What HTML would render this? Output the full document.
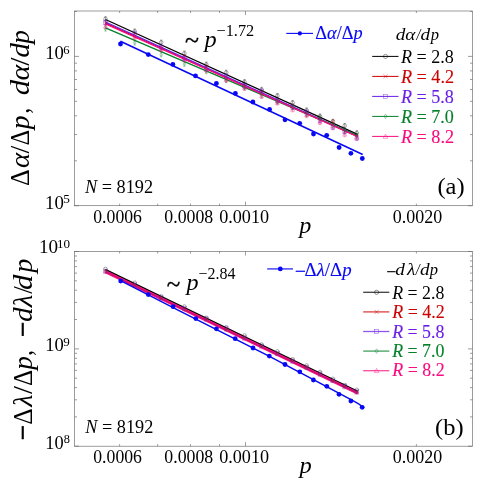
<!DOCTYPE html>
<html><head><meta charset="utf-8"><title>plot</title>
<style>
html,body{margin:0;padding:0;background:#fff;}
body{width:484px;height:485px;overflow:hidden;}
svg{display:block;}
text{font-family:"Liberation Serif",serif;}
.i{font-style:italic;}
</style></head><body>
<svg width="484" height="485" viewBox="0 0 484 485">
<rect width="484" height="485" fill="#fff"/>
<rect x="74.5" y="11.0" width="398.0" height="194.7" fill="none" stroke="#686868" stroke-width="0.65"/>
<path d="M119.6 205.7v-2M119.6 11.0v2M157.6 205.7v-2M157.6 11.0v2M190.5 205.7v-2M190.5 11.0v2M219.5 205.7v-2M219.5 11.0v2M245.5 205.7v-4M245.5 11.0v4M416.4 205.7v-2M416.4 11.0v2" stroke="#686868" stroke-width="0.65" fill="none"/>
<path d="M74.5 205.7h4.5M472.5 205.7h-4.5M74.5 160.8h2.5M472.5 160.8h-2.5M74.5 134.5h2.5M472.5 134.5h-2.5M74.5 115.8h2.5M472.5 115.8h-2.5M74.5 101.3h2.5M472.5 101.3h-2.5M74.5 89.5h2.5M472.5 89.5h-2.5M74.5 79.5h2.5M472.5 79.5h-2.5M74.5 70.9h2.5M472.5 70.9h-2.5M74.5 63.2h2.5M472.5 63.2h-2.5M74.5 56.4h4.5M472.5 56.4h-4.5M74.5 11.5h2.5M472.5 11.5h-2.5" stroke="#686868" stroke-width="0.65" fill="none"/>
<rect x="74.5" y="251.5" width="398.0" height="194.7" fill="none" stroke="#686868" stroke-width="0.65"/>
<path d="M119.6 446.2v-2M119.6 251.5v2M157.6 446.2v-2M157.6 251.5v2M190.5 446.2v-2M190.5 251.5v2M219.5 446.2v-2M219.5 251.5v2M245.5 446.2v-4M245.5 251.5v4M416.4 446.2v-2M416.4 251.5v2" stroke="#686868" stroke-width="0.65" fill="none"/>
<path d="M74.5 446.2h4.5M472.5 446.2h-4.5M74.5 416.9h2.5M472.5 416.9h-2.5M74.5 399.8h2.5M472.5 399.8h-2.5M74.5 387.6h2.5M472.5 387.6h-2.5M74.5 378.2h2.5M472.5 378.2h-2.5M74.5 370.4h2.5M472.5 370.4h-2.5M74.5 363.9h2.5M472.5 363.9h-2.5M74.5 358.3h2.5M472.5 358.3h-2.5M74.5 353.3h2.5M472.5 353.3h-2.5M74.5 348.9h4.5M472.5 348.9h-4.5M74.5 319.5h2.5M472.5 319.5h-2.5M74.5 302.4h2.5M472.5 302.4h-2.5M74.5 290.2h2.5M472.5 290.2h-2.5M74.5 280.8h2.5M472.5 280.8h-2.5M74.5 273.1h2.5M472.5 273.1h-2.5M74.5 266.6h2.5M472.5 266.6h-2.5M74.5 260.9h2.5M472.5 260.9h-2.5M74.5 256.0h2.5M472.5 256.0h-2.5M74.5 251.5h4.5M472.5 251.5h-4.5" stroke="#686868" stroke-width="0.65" fill="none"/>
<path d="M105.5 19.5L357.6 134.4" stroke="#000000" stroke-width="1.3" fill="none"/>
<path d="M105.5 23.2L357.6 136.5" stroke="#cc0000" stroke-width="1.3" fill="none"/>
<path d="M105.5 22.0L357.6 136.2" stroke="#6a1ee6" stroke-width="1.3" fill="none"/>
<path d="M105.5 27.8L357.6 135.6" stroke="#05802a" stroke-width="1.3" fill="none"/>
<path d="M105.5 23.9L357.6 136.7" stroke="#f80c80" stroke-width="1.3" fill="none"/>
<g stroke="#000000" stroke-width="0.6" fill="none" opacity="0.6"><path d="M105.5 16.7V21.3M104.3 16.7h2.4M104.3 21.3h2.4"/><circle cx="105.5" cy="19.0" r="1.8"/></g>
<g stroke="#000000" stroke-width="0.6" fill="none" opacity="0.6"><path d="M134.7 29.0V33.6M133.5 29.0h2.4M133.5 33.6h2.4"/><circle cx="134.7" cy="31.3" r="1.8"/></g>
<g stroke="#000000" stroke-width="0.6" fill="none" opacity="0.6"><path d="M161.2 40.1V44.7M160.0 40.1h2.4M160.0 44.7h2.4"/><circle cx="161.2" cy="42.4" r="1.8"/></g>
<g stroke="#000000" stroke-width="0.6" fill="none" opacity="0.6"><path d="M184.4 51.0V55.6M183.2 51.0h2.4M183.2 55.6h2.4"/><circle cx="184.4" cy="53.3" r="1.8"/></g>
<g stroke="#000000" stroke-width="0.6" fill="none" opacity="0.6"><path d="M206.3 62.1V66.7M205.1 62.1h2.4M205.1 66.7h2.4"/><circle cx="206.3" cy="64.4" r="1.8"/></g>
<g stroke="#000000" stroke-width="0.6" fill="none" opacity="0.6"><path d="M226.2 70.2V74.8M225.0 70.2h2.4M225.0 74.8h2.4"/><circle cx="226.2" cy="72.5" r="1.8"/></g>
<g stroke="#000000" stroke-width="0.6" fill="none" opacity="0.6"><path d="M244.5 79.6V84.2M243.3 79.6h2.4M243.3 84.2h2.4"/><circle cx="244.5" cy="81.9" r="1.8"/></g>
<g stroke="#000000" stroke-width="0.6" fill="none" opacity="0.6"><path d="M261.6 87.3V91.9M260.4 87.3h2.4M260.4 91.9h2.4"/><circle cx="261.6" cy="89.6" r="1.8"/></g>
<g stroke="#000000" stroke-width="0.6" fill="none" opacity="0.6"><path d="M277.4 93.5V98.1M276.2 93.5h2.4M276.2 98.1h2.4"/><circle cx="277.4" cy="95.8" r="1.8"/></g>
<g stroke="#000000" stroke-width="0.6" fill="none" opacity="0.6"><path d="M292.6 100.5V105.1M291.4 100.5h2.4M291.4 105.1h2.4"/><circle cx="292.6" cy="102.8" r="1.8"/></g>
<g stroke="#000000" stroke-width="0.6" fill="none" opacity="0.6"><path d="M306.6 107.9V112.5M305.4 107.9h2.4M305.4 112.5h2.4"/><circle cx="306.6" cy="110.2" r="1.8"/></g>
<g stroke="#000000" stroke-width="0.6" fill="none" opacity="0.6"><path d="M320.0 114.0V118.6M318.8 114.0h2.4M318.8 118.6h2.4"/><circle cx="320.0" cy="116.3" r="1.8"/></g>
<g stroke="#000000" stroke-width="0.6" fill="none" opacity="0.6"><path d="M332.9 119.3V123.9M331.7 119.3h2.4M331.7 123.9h2.4"/><circle cx="332.9" cy="121.6" r="1.8"/></g>
<g stroke="#000000" stroke-width="0.6" fill="none" opacity="0.6"><path d="M344.7 123.4V128.0M343.5 123.4h2.4M343.5 128.0h2.4"/><circle cx="344.7" cy="125.7" r="1.8"/></g>
<g stroke="#000000" stroke-width="0.6" fill="none" opacity="0.6"><path d="M356.8 130.7V135.3M355.6 130.7h2.4M355.6 135.3h2.4"/><circle cx="356.8" cy="133.0" r="1.8"/></g>
<g stroke="#cc0000" stroke-width="0.6" fill="none" opacity="0.6"><path d="M105.5 20.9V25.5M104.3 20.9h2.4M104.3 25.5h2.4"/><path d="M103.7 21.4l3.6 3.6M103.7 25.0l3.6 -3.6"/></g>
<g stroke="#cc0000" stroke-width="0.6" fill="none" opacity="0.6"><path d="M134.7 33.5V38.1M133.5 33.5h2.4M133.5 38.1h2.4"/><path d="M132.9 34.0l3.6 3.6M132.9 37.6l3.6 -3.6"/></g>
<g stroke="#cc0000" stroke-width="0.6" fill="none" opacity="0.6"><path d="M161.2 46.4V51.0M160.0 46.4h2.4M160.0 51.0h2.4"/><path d="M159.4 46.9l3.6 3.6M159.4 50.5l3.6 -3.6"/></g>
<g stroke="#cc0000" stroke-width="0.6" fill="none" opacity="0.6"><path d="M184.4 54.9V59.5M183.2 54.9h2.4M183.2 59.5h2.4"/><path d="M182.6 55.4l3.6 3.6M182.6 59.0l3.6 -3.6"/></g>
<g stroke="#cc0000" stroke-width="0.6" fill="none" opacity="0.6"><path d="M206.3 65.2V69.8M205.1 65.2h2.4M205.1 69.8h2.4"/><path d="M204.5 65.7l3.6 3.6M204.5 69.3l3.6 -3.6"/></g>
<g stroke="#cc0000" stroke-width="0.6" fill="none" opacity="0.6"><path d="M226.2 76.1V80.7M225.0 76.1h2.4M225.0 80.7h2.4"/><path d="M224.4 76.6l3.6 3.6M224.4 80.2l3.6 -3.6"/></g>
<g stroke="#cc0000" stroke-width="0.6" fill="none" opacity="0.6"><path d="M244.5 83.9V88.5M243.3 83.9h2.4M243.3 88.5h2.4"/><path d="M242.7 84.4l3.6 3.6M242.7 88.0l3.6 -3.6"/></g>
<g stroke="#cc0000" stroke-width="0.6" fill="none" opacity="0.6"><path d="M261.6 90.6V95.2M260.4 90.6h2.4M260.4 95.2h2.4"/><path d="M259.8 91.1l3.6 3.6M259.8 94.7l3.6 -3.6"/></g>
<g stroke="#cc0000" stroke-width="0.6" fill="none" opacity="0.6"><path d="M277.4 98.7V103.3M276.2 98.7h2.4M276.2 103.3h2.4"/><path d="M275.6 99.2l3.6 3.6M275.6 102.8l3.6 -3.6"/></g>
<g stroke="#cc0000" stroke-width="0.6" fill="none" opacity="0.6"><path d="M292.6 104.0V108.6M291.4 104.0h2.4M291.4 108.6h2.4"/><path d="M290.8 104.5l3.6 3.6M290.8 108.1l3.6 -3.6"/></g>
<g stroke="#cc0000" stroke-width="0.6" fill="none" opacity="0.6"><path d="M306.6 111.8V116.4M305.4 111.8h2.4M305.4 116.4h2.4"/><path d="M304.8 112.3l3.6 3.6M304.8 115.9l3.6 -3.6"/></g>
<g stroke="#cc0000" stroke-width="0.6" fill="none" opacity="0.6"><path d="M320.0 117.8V122.4M318.8 117.8h2.4M318.8 122.4h2.4"/><path d="M318.2 118.3l3.6 3.6M318.2 121.9l3.6 -3.6"/></g>
<g stroke="#cc0000" stroke-width="0.6" fill="none" opacity="0.6"><path d="M332.9 119.6V124.2M331.7 119.6h2.4M331.7 124.2h2.4"/><path d="M331.1 120.1l3.6 3.6M331.1 123.7l3.6 -3.6"/></g>
<g stroke="#cc0000" stroke-width="0.6" fill="none" opacity="0.6"><path d="M344.7 128.9V133.5M343.5 128.9h2.4M343.5 133.5h2.4"/><path d="M342.9 129.4l3.6 3.6M342.9 133.0l3.6 -3.6"/></g>
<g stroke="#cc0000" stroke-width="0.6" fill="none" opacity="0.6"><path d="M356.8 134.3V138.9M355.6 134.3h2.4M355.6 138.9h2.4"/><path d="M355.0 134.8l3.6 3.6M355.0 138.4l3.6 -3.6"/></g>
<g stroke="#6a1ee6" stroke-width="0.6" fill="none" opacity="0.6"><path d="M105.5 20.2V24.8M104.3 20.2h2.4M104.3 24.8h2.4"/><rect x="103.7" y="20.7" width="3.6" height="3.6"/></g>
<g stroke="#6a1ee6" stroke-width="0.6" fill="none" opacity="0.6"><path d="M134.7 31.4V36.0M133.5 31.4h2.4M133.5 36.0h2.4"/><rect x="132.9" y="31.9" width="3.6" height="3.6"/></g>
<g stroke="#6a1ee6" stroke-width="0.6" fill="none" opacity="0.6"><path d="M161.2 44.9V49.5M160.0 44.9h2.4M160.0 49.5h2.4"/><rect x="159.4" y="45.4" width="3.6" height="3.6"/></g>
<g stroke="#6a1ee6" stroke-width="0.6" fill="none" opacity="0.6"><path d="M184.4 55.9V60.5M183.2 55.9h2.4M183.2 60.5h2.4"/><rect x="182.6" y="56.4" width="3.6" height="3.6"/></g>
<g stroke="#6a1ee6" stroke-width="0.6" fill="none" opacity="0.6"><path d="M206.3 66.4V71.0M205.1 66.4h2.4M205.1 71.0h2.4"/><rect x="204.5" y="66.9" width="3.6" height="3.6"/></g>
<g stroke="#6a1ee6" stroke-width="0.6" fill="none" opacity="0.6"><path d="M226.2 73.9V78.5M225.0 73.9h2.4M225.0 78.5h2.4"/><rect x="224.4" y="74.4" width="3.6" height="3.6"/></g>
<g stroke="#6a1ee6" stroke-width="0.6" fill="none" opacity="0.6"><path d="M244.5 83.7V88.3M243.3 83.7h2.4M243.3 88.3h2.4"/><rect x="242.7" y="84.2" width="3.6" height="3.6"/></g>
<g stroke="#6a1ee6" stroke-width="0.6" fill="none" opacity="0.6"><path d="M261.6 88.9V93.5M260.4 88.9h2.4M260.4 93.5h2.4"/><rect x="259.8" y="89.4" width="3.6" height="3.6"/></g>
<g stroke="#6a1ee6" stroke-width="0.6" fill="none" opacity="0.6"><path d="M277.4 98.6V103.2M276.2 98.6h2.4M276.2 103.2h2.4"/><rect x="275.6" y="99.1" width="3.6" height="3.6"/></g>
<g stroke="#6a1ee6" stroke-width="0.6" fill="none" opacity="0.6"><path d="M292.6 105.0V109.6M291.4 105.0h2.4M291.4 109.6h2.4"/><rect x="290.8" y="105.5" width="3.6" height="3.6"/></g>
<g stroke="#6a1ee6" stroke-width="0.6" fill="none" opacity="0.6"><path d="M306.6 109.8V114.4M305.4 109.8h2.4M305.4 114.4h2.4"/><rect x="304.8" y="110.3" width="3.6" height="3.6"/></g>
<g stroke="#6a1ee6" stroke-width="0.6" fill="none" opacity="0.6"><path d="M320.0 118.4V123.0M318.8 118.4h2.4M318.8 123.0h2.4"/><rect x="318.2" y="118.9" width="3.6" height="3.6"/></g>
<g stroke="#6a1ee6" stroke-width="0.6" fill="none" opacity="0.6"><path d="M332.9 125.2V129.8M331.7 125.2h2.4M331.7 129.8h2.4"/><rect x="331.1" y="125.7" width="3.6" height="3.6"/></g>
<g stroke="#6a1ee6" stroke-width="0.6" fill="none" opacity="0.6"><path d="M344.7 129.6V134.2M343.5 129.6h2.4M343.5 134.2h2.4"/><rect x="342.9" y="130.1" width="3.6" height="3.6"/></g>
<g stroke="#6a1ee6" stroke-width="0.6" fill="none" opacity="0.6"><path d="M356.8 136.0V140.6M355.6 136.0h2.4M355.6 140.6h2.4"/><rect x="355.0" y="136.5" width="3.6" height="3.6"/></g>
<g stroke="#05802a" stroke-width="0.6" fill="none" opacity="0.6"><path d="M105.5 26.5V31.1M104.3 26.5h2.4M104.3 31.1h2.4"/><path d="M105.5 26.8l1.35 2.0l-1.35 2.0l-1.35 -2.0z"/></g>
<g stroke="#05802a" stroke-width="0.6" fill="none" opacity="0.6"><path d="M134.7 40.5V45.1M133.5 40.5h2.4M133.5 45.1h2.4"/><path d="M134.7 40.8l1.35 2.0l-1.35 2.0l-1.35 -2.0z"/></g>
<g stroke="#05802a" stroke-width="0.6" fill="none" opacity="0.6"><path d="M161.2 52.3V56.9M160.0 52.3h2.4M160.0 56.9h2.4"/><path d="M161.2 52.6l1.35 2.0l-1.35 2.0l-1.35 -2.0z"/></g>
<g stroke="#05802a" stroke-width="0.6" fill="none" opacity="0.6"><path d="M184.4 61.7V66.3M183.2 61.7h2.4M183.2 66.3h2.4"/><path d="M184.4 62.0l1.35 2.0l-1.35 2.0l-1.35 -2.0z"/></g>
<g stroke="#05802a" stroke-width="0.6" fill="none" opacity="0.6"><path d="M206.3 69.1V73.7M205.1 69.1h2.4M205.1 73.7h2.4"/><path d="M206.3 69.4l1.35 2.0l-1.35 2.0l-1.35 -2.0z"/></g>
<g stroke="#05802a" stroke-width="0.6" fill="none" opacity="0.6"><path d="M226.2 78.1V82.7M225.0 78.1h2.4M225.0 82.7h2.4"/><path d="M226.2 78.4l1.35 2.0l-1.35 2.0l-1.35 -2.0z"/></g>
<g stroke="#05802a" stroke-width="0.6" fill="none" opacity="0.6"><path d="M244.5 85.4V90.0M243.3 85.4h2.4M243.3 90.0h2.4"/><path d="M244.5 85.7l1.35 2.0l-1.35 2.0l-1.35 -2.0z"/></g>
<g stroke="#05802a" stroke-width="0.6" fill="none" opacity="0.6"><path d="M261.6 93.2V97.8M260.4 93.2h2.4M260.4 97.8h2.4"/><path d="M261.6 93.5l1.35 2.0l-1.35 2.0l-1.35 -2.0z"/></g>
<g stroke="#05802a" stroke-width="0.6" fill="none" opacity="0.6"><path d="M277.4 99.5V104.1M276.2 99.5h2.4M276.2 104.1h2.4"/><path d="M277.4 99.8l1.35 2.0l-1.35 2.0l-1.35 -2.0z"/></g>
<g stroke="#05802a" stroke-width="0.6" fill="none" opacity="0.6"><path d="M292.6 105.0V109.6M291.4 105.0h2.4M291.4 109.6h2.4"/><path d="M292.6 105.3l1.35 2.0l-1.35 2.0l-1.35 -2.0z"/></g>
<g stroke="#05802a" stroke-width="0.6" fill="none" opacity="0.6"><path d="M306.6 112.0V116.6M305.4 112.0h2.4M305.4 116.6h2.4"/><path d="M306.6 112.3l1.35 2.0l-1.35 2.0l-1.35 -2.0z"/></g>
<g stroke="#05802a" stroke-width="0.6" fill="none" opacity="0.6"><path d="M320.0 115.7V120.3M318.8 115.7h2.4M318.8 120.3h2.4"/><path d="M320.0 116.0l1.35 2.0l-1.35 2.0l-1.35 -2.0z"/></g>
<g stroke="#05802a" stroke-width="0.6" fill="none" opacity="0.6"><path d="M332.9 123.2V127.8M331.7 123.2h2.4M331.7 127.8h2.4"/><path d="M332.9 123.5l1.35 2.0l-1.35 2.0l-1.35 -2.0z"/></g>
<g stroke="#05802a" stroke-width="0.6" fill="none" opacity="0.6"><path d="M344.7 128.3V132.9M343.5 128.3h2.4M343.5 132.9h2.4"/><path d="M344.7 128.6l1.35 2.0l-1.35 2.0l-1.35 -2.0z"/></g>
<g stroke="#05802a" stroke-width="0.6" fill="none" opacity="0.6"><path d="M356.8 133.5V138.1M355.6 133.5h2.4M355.6 138.1h2.4"/><path d="M356.8 133.8l1.35 2.0l-1.35 2.0l-1.35 -2.0z"/></g>
<g stroke="#f80c80" stroke-width="0.6" fill="none" opacity="0.6"><path d="M105.5 24.1V28.7M104.3 24.1h2.4M104.3 28.7h2.4"/><path d="M105.5 24.4l2.0 3.6h-4.0z"/></g>
<g stroke="#f80c80" stroke-width="0.6" fill="none" opacity="0.6"><path d="M134.7 35.2V39.8M133.5 35.2h2.4M133.5 39.8h2.4"/><path d="M134.7 35.5l2.0 3.6h-4.0z"/></g>
<g stroke="#f80c80" stroke-width="0.6" fill="none" opacity="0.6"><path d="M161.2 47.0V51.6M160.0 47.0h2.4M160.0 51.6h2.4"/><path d="M161.2 47.3l2.0 3.6h-4.0z"/></g>
<g stroke="#f80c80" stroke-width="0.6" fill="none" opacity="0.6"><path d="M184.4 57.4V62.0M183.2 57.4h2.4M183.2 62.0h2.4"/><path d="M184.4 57.7l2.0 3.6h-4.0z"/></g>
<g stroke="#f80c80" stroke-width="0.6" fill="none" opacity="0.6"><path d="M206.3 67.7V72.3M205.1 67.7h2.4M205.1 72.3h2.4"/><path d="M206.3 68.0l2.0 3.6h-4.0z"/></g>
<g stroke="#f80c80" stroke-width="0.6" fill="none" opacity="0.6"><path d="M226.2 77.6V82.2M225.0 77.6h2.4M225.0 82.2h2.4"/><path d="M226.2 77.9l2.0 3.6h-4.0z"/></g>
<g stroke="#f80c80" stroke-width="0.6" fill="none" opacity="0.6"><path d="M244.5 85.8V90.4M243.3 85.8h2.4M243.3 90.4h2.4"/><path d="M244.5 86.1l2.0 3.6h-4.0z"/></g>
<g stroke="#f80c80" stroke-width="0.6" fill="none" opacity="0.6"><path d="M261.6 93.9V98.5M260.4 93.9h2.4M260.4 98.5h2.4"/><path d="M261.6 94.2l2.0 3.6h-4.0z"/></g>
<g stroke="#f80c80" stroke-width="0.6" fill="none" opacity="0.6"><path d="M277.4 100.5V105.1M276.2 100.5h2.4M276.2 105.1h2.4"/><path d="M277.4 100.8l2.0 3.6h-4.0z"/></g>
<g stroke="#f80c80" stroke-width="0.6" fill="none" opacity="0.6"><path d="M292.6 107.3V111.9M291.4 107.3h2.4M291.4 111.9h2.4"/><path d="M292.6 107.6l2.0 3.6h-4.0z"/></g>
<g stroke="#f80c80" stroke-width="0.6" fill="none" opacity="0.6"><path d="M306.6 113.1V117.7M305.4 113.1h2.4M305.4 117.7h2.4"/><path d="M306.6 113.4l2.0 3.6h-4.0z"/></g>
<g stroke="#f80c80" stroke-width="0.6" fill="none" opacity="0.6"><path d="M320.0 120.1V124.7M318.8 120.1h2.4M318.8 124.7h2.4"/><path d="M320.0 120.4l2.0 3.6h-4.0z"/></g>
<g stroke="#f80c80" stroke-width="0.6" fill="none" opacity="0.6"><path d="M332.9 124.3V128.9M331.7 124.3h2.4M331.7 128.9h2.4"/><path d="M332.9 124.6l2.0 3.6h-4.0z"/></g>
<g stroke="#f80c80" stroke-width="0.6" fill="none" opacity="0.6"><path d="M344.7 132.1V136.7M343.5 132.1h2.4M343.5 136.7h2.4"/><path d="M344.7 132.4l2.0 3.6h-4.0z"/></g>
<g stroke="#f80c80" stroke-width="0.6" fill="none" opacity="0.6"><path d="M356.8 135.5V140.1M355.6 135.5h2.4M355.6 140.1h2.4"/><path d="M356.8 135.8l2.0 3.6h-4.0z"/></g>
<path d="M120.4 41.2L362.7 154.5" stroke="#0808f4" stroke-width="1.5" fill="none"/>
<circle cx="120.5" cy="44" r="2.4" fill="#0808f4"/>
<circle cx="148.3" cy="54.6" r="2.4" fill="#0808f4"/>
<circle cx="172.9" cy="64.4" r="2.4" fill="#0808f4"/>
<circle cx="195.5" cy="75.9" r="2.4" fill="#0808f4"/>
<circle cx="216.4" cy="83.5" r="2.4" fill="#0808f4"/>
<circle cx="235.4" cy="93.4" r="2.4" fill="#0808f4"/>
<circle cx="252.9" cy="102" r="2.4" fill="#0808f4"/>
<circle cx="269.6" cy="109.4" r="2.4" fill="#0808f4"/>
<circle cx="285" cy="119.8" r="2.4" fill="#0808f4"/>
<circle cx="299.7" cy="123.3" r="2.4" fill="#0808f4"/>
<circle cx="313.5" cy="134" r="2.4" fill="#0808f4"/>
<circle cx="326.7" cy="135.3" r="2.4" fill="#0808f4"/>
<circle cx="339.1" cy="147.5" r="2.4" fill="#0808f4"/>
<circle cx="350.9" cy="153.3" r="2.4" fill="#0808f4"/>
<circle cx="362.3" cy="158.5" r="2.4" fill="#0808f4"/>
<path d="M105.2 269.5L357.8 391.4" stroke="#000000" stroke-width="1.4" fill="none"/>
<path d="M105.2 271.6L357.8 393.2" stroke="#f80c80" stroke-width="2.9" fill="none"/>
<path d="M105.2 271.7L357.8 393.2" stroke="#a01060" stroke-width="0.8" fill="none" opacity="0.8"/>
<g stroke="#000000" stroke-width="0.6" fill="none" opacity="0.55"><circle cx="105.5" cy="268.9" r="1.8"/></g>
<g stroke="#000000" stroke-width="0.6" fill="none" opacity="0.55"><circle cx="134.7" cy="282.7" r="1.8"/></g>
<g stroke="#000000" stroke-width="0.6" fill="none" opacity="0.55"><circle cx="161.2" cy="296.3" r="1.8"/></g>
<g stroke="#000000" stroke-width="0.6" fill="none" opacity="0.55"><circle cx="184.4" cy="306.5" r="1.8"/></g>
<g stroke="#000000" stroke-width="0.6" fill="none" opacity="0.55"><circle cx="206.3" cy="317.8" r="1.8"/></g>
<g stroke="#000000" stroke-width="0.6" fill="none" opacity="0.55"><circle cx="226.2" cy="327.2" r="1.8"/></g>
<g stroke="#000000" stroke-width="0.6" fill="none" opacity="0.55"><circle cx="244.5" cy="335.5" r="1.8"/></g>
<g stroke="#000000" stroke-width="0.6" fill="none" opacity="0.55"><circle cx="261.6" cy="344.5" r="1.8"/></g>
<g stroke="#000000" stroke-width="0.6" fill="none" opacity="0.55"><circle cx="277.4" cy="351.4" r="1.8"/></g>
<g stroke="#000000" stroke-width="0.6" fill="none" opacity="0.55"><circle cx="292.6" cy="359.3" r="1.8"/></g>
<g stroke="#000000" stroke-width="0.6" fill="none" opacity="0.55"><circle cx="306.6" cy="365.5" r="1.8"/></g>
<g stroke="#000000" stroke-width="0.6" fill="none" opacity="0.55"><circle cx="320.0" cy="372.0" r="1.8"/></g>
<g stroke="#000000" stroke-width="0.6" fill="none" opacity="0.55"><circle cx="332.9" cy="378.8" r="1.8"/></g>
<g stroke="#000000" stroke-width="0.6" fill="none" opacity="0.55"><circle cx="344.7" cy="385.1" r="1.8"/></g>
<g stroke="#000000" stroke-width="0.6" fill="none" opacity="0.55"><circle cx="356.8" cy="389.8" r="1.8"/></g>
<g stroke="#cc0000" stroke-width="0.6" fill="none" opacity="0.55"><path d="M103.7 268.3l3.6 3.6M103.7 271.9l3.6 -3.6"/></g>
<g stroke="#cc0000" stroke-width="0.6" fill="none" opacity="0.55"><path d="M132.9 283.0l3.6 3.6M132.9 286.6l3.6 -3.6"/></g>
<g stroke="#cc0000" stroke-width="0.6" fill="none" opacity="0.55"><path d="M159.4 296.3l3.6 3.6M159.4 299.9l3.6 -3.6"/></g>
<g stroke="#cc0000" stroke-width="0.6" fill="none" opacity="0.55"><path d="M182.6 306.8l3.6 3.6M182.6 310.4l3.6 -3.6"/></g>
<g stroke="#cc0000" stroke-width="0.6" fill="none" opacity="0.55"><path d="M204.5 317.1l3.6 3.6M204.5 320.7l3.6 -3.6"/></g>
<g stroke="#cc0000" stroke-width="0.6" fill="none" opacity="0.55"><path d="M224.4 327.6l3.6 3.6M224.4 331.2l3.6 -3.6"/></g>
<g stroke="#cc0000" stroke-width="0.6" fill="none" opacity="0.55"><path d="M242.7 334.9l3.6 3.6M242.7 338.5l3.6 -3.6"/></g>
<g stroke="#cc0000" stroke-width="0.6" fill="none" opacity="0.55"><path d="M259.8 344.5l3.6 3.6M259.8 348.1l3.6 -3.6"/></g>
<g stroke="#cc0000" stroke-width="0.6" fill="none" opacity="0.55"><path d="M275.6 351.2l3.6 3.6M275.6 354.8l3.6 -3.6"/></g>
<g stroke="#cc0000" stroke-width="0.6" fill="none" opacity="0.55"><path d="M290.8 358.2l3.6 3.6M290.8 361.8l3.6 -3.6"/></g>
<g stroke="#cc0000" stroke-width="0.6" fill="none" opacity="0.55"><path d="M304.8 364.9l3.6 3.6M304.8 368.5l3.6 -3.6"/></g>
<g stroke="#cc0000" stroke-width="0.6" fill="none" opacity="0.55"><path d="M318.2 371.7l3.6 3.6M318.2 375.3l3.6 -3.6"/></g>
<g stroke="#cc0000" stroke-width="0.6" fill="none" opacity="0.55"><path d="M331.1 378.7l3.6 3.6M331.1 382.3l3.6 -3.6"/></g>
<g stroke="#cc0000" stroke-width="0.6" fill="none" opacity="0.55"><path d="M342.9 383.4l3.6 3.6M342.9 387.0l3.6 -3.6"/></g>
<g stroke="#cc0000" stroke-width="0.6" fill="none" opacity="0.55"><path d="M355.0 389.8l3.6 3.6M355.0 393.4l3.6 -3.6"/></g>
<g stroke="#6a1ee6" stroke-width="0.6" fill="none" opacity="0.55"><rect x="103.7" y="269.3" width="3.6" height="3.6"/></g>
<g stroke="#6a1ee6" stroke-width="0.6" fill="none" opacity="0.55"><rect x="132.9" y="282.9" width="3.6" height="3.6"/></g>
<g stroke="#6a1ee6" stroke-width="0.6" fill="none" opacity="0.55"><rect x="159.4" y="295.9" width="3.6" height="3.6"/></g>
<g stroke="#6a1ee6" stroke-width="0.6" fill="none" opacity="0.55"><rect x="182.6" y="306.3" width="3.6" height="3.6"/></g>
<g stroke="#6a1ee6" stroke-width="0.6" fill="none" opacity="0.55"><rect x="204.5" y="316.9" width="3.6" height="3.6"/></g>
<g stroke="#6a1ee6" stroke-width="0.6" fill="none" opacity="0.55"><rect x="224.4" y="326.7" width="3.6" height="3.6"/></g>
<g stroke="#6a1ee6" stroke-width="0.6" fill="none" opacity="0.55"><rect x="242.7" y="336.2" width="3.6" height="3.6"/></g>
<g stroke="#6a1ee6" stroke-width="0.6" fill="none" opacity="0.55"><rect x="259.8" y="344.1" width="3.6" height="3.6"/></g>
<g stroke="#6a1ee6" stroke-width="0.6" fill="none" opacity="0.55"><rect x="275.6" y="351.5" width="3.6" height="3.6"/></g>
<g stroke="#6a1ee6" stroke-width="0.6" fill="none" opacity="0.55"><rect x="290.8" y="359.3" width="3.6" height="3.6"/></g>
<g stroke="#6a1ee6" stroke-width="0.6" fill="none" opacity="0.55"><rect x="304.8" y="365.8" width="3.6" height="3.6"/></g>
<g stroke="#6a1ee6" stroke-width="0.6" fill="none" opacity="0.55"><rect x="318.2" y="372.0" width="3.6" height="3.6"/></g>
<g stroke="#6a1ee6" stroke-width="0.6" fill="none" opacity="0.55"><rect x="331.1" y="379.0" width="3.6" height="3.6"/></g>
<g stroke="#6a1ee6" stroke-width="0.6" fill="none" opacity="0.55"><rect x="342.9" y="384.5" width="3.6" height="3.6"/></g>
<g stroke="#6a1ee6" stroke-width="0.6" fill="none" opacity="0.55"><rect x="355.0" y="389.6" width="3.6" height="3.6"/></g>
<g stroke="#05802a" stroke-width="0.6" fill="none" opacity="0.55"><path d="M105.5 269.3l1.35 2.0l-1.35 2.0l-1.35 -2.0z"/></g>
<g stroke="#05802a" stroke-width="0.6" fill="none" opacity="0.55"><path d="M134.7 283.2l1.35 2.0l-1.35 2.0l-1.35 -2.0z"/></g>
<g stroke="#05802a" stroke-width="0.6" fill="none" opacity="0.55"><path d="M161.2 296.5l1.35 2.0l-1.35 2.0l-1.35 -2.0z"/></g>
<g stroke="#05802a" stroke-width="0.6" fill="none" opacity="0.55"><path d="M184.4 307.5l1.35 2.0l-1.35 2.0l-1.35 -2.0z"/></g>
<g stroke="#05802a" stroke-width="0.6" fill="none" opacity="0.55"><path d="M206.3 317.3l1.35 2.0l-1.35 2.0l-1.35 -2.0z"/></g>
<g stroke="#05802a" stroke-width="0.6" fill="none" opacity="0.55"><path d="M226.2 328.0l1.35 2.0l-1.35 2.0l-1.35 -2.0z"/></g>
<g stroke="#05802a" stroke-width="0.6" fill="none" opacity="0.55"><path d="M244.5 335.4l1.35 2.0l-1.35 2.0l-1.35 -2.0z"/></g>
<g stroke="#05802a" stroke-width="0.6" fill="none" opacity="0.55"><path d="M261.6 344.1l1.35 2.0l-1.35 2.0l-1.35 -2.0z"/></g>
<g stroke="#05802a" stroke-width="0.6" fill="none" opacity="0.55"><path d="M277.4 352.2l1.35 2.0l-1.35 2.0l-1.35 -2.0z"/></g>
<g stroke="#05802a" stroke-width="0.6" fill="none" opacity="0.55"><path d="M292.6 358.6l1.35 2.0l-1.35 2.0l-1.35 -2.0z"/></g>
<g stroke="#05802a" stroke-width="0.6" fill="none" opacity="0.55"><path d="M306.6 365.9l1.35 2.0l-1.35 2.0l-1.35 -2.0z"/></g>
<g stroke="#05802a" stroke-width="0.6" fill="none" opacity="0.55"><path d="M320.0 371.6l1.35 2.0l-1.35 2.0l-1.35 -2.0z"/></g>
<g stroke="#05802a" stroke-width="0.6" fill="none" opacity="0.55"><path d="M332.9 378.8l1.35 2.0l-1.35 2.0l-1.35 -2.0z"/></g>
<g stroke="#05802a" stroke-width="0.6" fill="none" opacity="0.55"><path d="M344.7 384.6l1.35 2.0l-1.35 2.0l-1.35 -2.0z"/></g>
<g stroke="#05802a" stroke-width="0.6" fill="none" opacity="0.55"><path d="M356.8 390.1l1.35 2.0l-1.35 2.0l-1.35 -2.0z"/></g>
<g stroke="#f80c80" stroke-width="0.6" fill="none" opacity="0.55"><path d="M105.5 269.8l2.0 3.6h-4.0z"/></g>
<g stroke="#f80c80" stroke-width="0.6" fill="none" opacity="0.55"><path d="M134.7 283.0l2.0 3.6h-4.0z"/></g>
<g stroke="#f80c80" stroke-width="0.6" fill="none" opacity="0.55"><path d="M161.2 296.4l2.0 3.6h-4.0z"/></g>
<g stroke="#f80c80" stroke-width="0.6" fill="none" opacity="0.55"><path d="M184.4 307.4l2.0 3.6h-4.0z"/></g>
<g stroke="#f80c80" stroke-width="0.6" fill="none" opacity="0.55"><path d="M206.3 317.9l2.0 3.6h-4.0z"/></g>
<g stroke="#f80c80" stroke-width="0.6" fill="none" opacity="0.55"><path d="M226.2 327.3l2.0 3.6h-4.0z"/></g>
<g stroke="#f80c80" stroke-width="0.6" fill="none" opacity="0.55"><path d="M244.5 336.7l2.0 3.6h-4.0z"/></g>
<g stroke="#f80c80" stroke-width="0.6" fill="none" opacity="0.55"><path d="M261.6 345.1l2.0 3.6h-4.0z"/></g>
<g stroke="#f80c80" stroke-width="0.6" fill="none" opacity="0.55"><path d="M277.4 352.0l2.0 3.6h-4.0z"/></g>
<g stroke="#f80c80" stroke-width="0.6" fill="none" opacity="0.55"><path d="M292.6 359.6l2.0 3.6h-4.0z"/></g>
<g stroke="#f80c80" stroke-width="0.6" fill="none" opacity="0.55"><path d="M306.6 365.3l2.0 3.6h-4.0z"/></g>
<g stroke="#f80c80" stroke-width="0.6" fill="none" opacity="0.55"><path d="M320.0 372.8l2.0 3.6h-4.0z"/></g>
<g stroke="#f80c80" stroke-width="0.6" fill="none" opacity="0.55"><path d="M332.9 378.9l2.0 3.6h-4.0z"/></g>
<g stroke="#f80c80" stroke-width="0.6" fill="none" opacity="0.55"><path d="M344.7 385.2l2.0 3.6h-4.0z"/></g>
<g stroke="#f80c80" stroke-width="0.6" fill="none" opacity="0.55"><path d="M356.8 390.7l2.0 3.6h-4.0z"/></g>
<path d="M120.0 280.3L180 311.2L270 356.6L320 383.2L354.7 401.7Q360 404.3 362.1 407" stroke="#0808f4" stroke-width="1.5" fill="none"/>
<circle cx="120.7" cy="281" r="2.4" fill="#0808f4"/>
<circle cx="148.3" cy="294.6" r="2.4" fill="#0808f4"/>
<circle cx="173.1" cy="306.7" r="2.4" fill="#0808f4"/>
<circle cx="195.8" cy="318.6" r="2.4" fill="#0808f4"/>
<circle cx="216.4" cy="328.8" r="2.4" fill="#0808f4"/>
<circle cx="235.2" cy="338.7" r="2.4" fill="#0808f4"/>
<circle cx="253" cy="348" r="2.4" fill="#0808f4"/>
<circle cx="269.3" cy="356.1" r="2.4" fill="#0808f4"/>
<circle cx="285" cy="364.5" r="2.4" fill="#0808f4"/>
<circle cx="299.8" cy="371.8" r="2.4" fill="#0808f4"/>
<circle cx="313.4" cy="380" r="2.4" fill="#0808f4"/>
<circle cx="326.8" cy="386.3" r="2.4" fill="#0808f4"/>
<circle cx="339" cy="394.3" r="2.4" fill="#0808f4"/>
<circle cx="350.9" cy="401" r="2.4" fill="#0808f4"/>
<circle cx="362.2" cy="407.3" r="2.4" fill="#0808f4"/>
<path d="M286.3 33.4H313" stroke="#0808f4" stroke-width="1.1"/><circle cx="299.9" cy="33.4" r="2.1" fill="#0808f4"/>
<path d="M267.2 268.9H293" stroke="#0808f4" stroke-width="1.5" opacity="0.75"/><circle cx="280.3" cy="268.9" r="2.4" fill="#0808f4"/>
<path d="M372.2 56.4H398.5" stroke="#000000" stroke-width="1"/>
<g stroke="#000000" stroke-width="0.5" fill="none" opacity="0.75"><circle cx="385.5" cy="56.4" r="2.1"/></g>
<path d="M363.2 292.3H389.3" stroke="#000000" stroke-width="1.3" opacity="0.75"/>
<g stroke="#000000" stroke-width="0.5" fill="none" opacity="0.8"><circle cx="376.6" cy="292.3" r="2.1"/></g>
<path d="M372.2 76.4H398.5" stroke="#cc0000" stroke-width="1"/>
<g stroke="#cc0000" stroke-width="0.5" fill="none" opacity="0.75"><path d="M383.4 74.3l4.2 4.2M383.4 78.5l4.2 -4.2"/></g>
<path d="M363.2 311.9H389.3" stroke="#cc0000" stroke-width="1.3" opacity="0.75"/>
<g stroke="#cc0000" stroke-width="0.5" fill="none" opacity="0.8"><path d="M374.5 309.8l4.2 4.2M374.5 314.0l4.2 -4.2"/></g>
<path d="M372.2 96.4H398.5" stroke="#6a1ee6" stroke-width="1"/>
<g stroke="#6a1ee6" stroke-width="0.5" fill="none" opacity="0.75"><rect x="383.4" y="94.3" width="4.2" height="4.2"/></g>
<path d="M363.2 331.5H389.3" stroke="#6a1ee6" stroke-width="1.3" opacity="0.75"/>
<g stroke="#6a1ee6" stroke-width="0.5" fill="none" opacity="0.8"><rect x="374.5" y="329.4" width="4.2" height="4.2"/></g>
<path d="M372.2 116.4H398.5" stroke="#05802a" stroke-width="1"/>
<g stroke="#05802a" stroke-width="0.5" fill="none" opacity="0.75"><path d="M385.5 114.1l1.58 2.3000000000000003l-1.58 2.3000000000000003l-1.58 -2.3000000000000003z"/></g>
<path d="M363.2 351.1H389.3" stroke="#05802a" stroke-width="1.3" opacity="0.75"/>
<g stroke="#05802a" stroke-width="0.5" fill="none" opacity="0.8"><path d="M376.6 348.8l1.58 2.3000000000000003l-1.58 2.3000000000000003l-1.58 -2.3000000000000003z"/></g>
<path d="M372.2 136.4H398.5" stroke="#f80c80" stroke-width="1"/>
<g stroke="#f80c80" stroke-width="0.5" fill="none" opacity="0.75"><path d="M385.5 134.1l2.3000000000000003 4.2h-4.6000000000000005z"/></g>
<path d="M363.2 370.7H389.3" stroke="#f80c80" stroke-width="1.3" opacity="0.75"/>
<g stroke="#f80c80" stroke-width="0.5" fill="none" opacity="0.8"><path d="M376.6 368.4l2.3000000000000003 4.2h-4.6000000000000005z"/></g>
<g opacity="0.999">
<text transform="translate(45.22,59.0) scale(1.0516,1)" font-size="17.8">10</text>
<text transform="translate(63.15,53.6) scale(1.1000,1)" font-size="11.5">6</text>
<text transform="translate(45.01,208.6) scale(1.0581,1)" font-size="17.8">10</text>
<text transform="translate(63.13,202.9) scale(1.1556,1)" font-size="11.5">5</text>
<text transform="translate(38.88,253.0) scale(1.0774,1)" font-size="17.8">10</text>
<text transform="translate(57.06,247.6) scale(1.1400,1)" font-size="11.5">10</text>
<text transform="translate(45.23,351.4) scale(1.0452,1)" font-size="17.8">10</text>
<text transform="translate(63.33,345.8) scale(1.1368,1)" font-size="11.5">9</text>
<text transform="translate(45.35,448.8) scale(1.0323,1)" font-size="17.8">10</text>
<text transform="translate(63.76,442.8) scale(1.0737,1)" font-size="11.5">8</text>
<text transform="translate(93.25,223.2) scale(0.9948,1)" font-size="17.8">0.0006</text>
<text transform="translate(164.35,223.2) scale(1.0000,1)" font-size="17.8">0.0008</text>
<text transform="translate(219.13,223.2) scale(1.0211,1)" font-size="17.8">0.0010</text>
<text transform="translate(392.84,223.2) scale(1.0105,1)" font-size="17.8">0.0020</text>
<text transform="translate(93.25,463.0) scale(0.9948,1)" font-size="17.8">0.0006</text>
<text transform="translate(164.35,463.0) scale(1.0000,1)" font-size="17.8">0.0008</text>
<text transform="translate(219.13,463.0) scale(1.0211,1)" font-size="17.8">0.0010</text>
<text transform="translate(392.84,463.0) scale(1.0105,1)" font-size="17.8">0.0020</text>
<text transform="translate(299.31,233.0) scale(1.0039,1)" font-size="24"><tspan class="i">p</tspan></text>
<text transform="translate(299.43,472.9) scale(1.0196,1)" font-size="24"><tspan class="i">p</tspan></text>
<text transform="translate(85.00,192.6) scale(1.0260,1)" font-size="17.8"><tspan class="i">N</tspan> = 8192</text>
<text transform="translate(85.20,432.9) scale(1.0260,1)" font-size="17.8"><tspan class="i">N</tspan> = 8192</text>
<text transform="translate(437.41,193.8) scale(1.0913,1)" font-size="22.5">(a)</text>
<text transform="translate(435.11,435.1) scale(1.0887,1)" font-size="22.5">(b)</text>
<text transform="translate(185.03,48.4) scale(1.0333,1)" font-size="25" style="stroke:#000;stroke-width:0.35px">~</text>
<text transform="translate(204.62,47.0) scale(1.0118,1)" font-size="24"><tspan class="i">p</tspan></text>
<text transform="translate(216.43,35.5) scale(1.0213,1)" font-size="16">−1.72</text>
<text transform="translate(166.85,291.8) scale(1.0000,1)" font-size="25" style="stroke:#000;stroke-width:0.35px">~</text>
<text transform="translate(186.61,290.2) scale(1.0039,1)" font-size="24"><tspan class="i">p</tspan></text>
<text transform="translate(198.45,279.0) scale(0.9972,1)" font-size="16">−2.84</text>
<text transform="translate(315.33,39.3) scale(1.0257,1)" font-size="17.8" fill="#0808f4" style="stroke:#0808f4;stroke-width:0.12px">Δ<tspan class="i">α</tspan>/Δ<tspan class="i">p</tspan></text>
<text transform="translate(395.71,39.7) scale(1.2200,1)" font-size="15.8" style="stroke-width:0.06px"><tspan class="i">d</tspan></text>
<text transform="translate(405.31,39.7) scale(1.2200,1)" font-size="15.8" style="stroke-width:0.06px"><tspan class="i">α</tspan></text>
<text transform="translate(416.50,39.7) scale(0.9000,1)" font-size="15.8" style="stroke-width:0.06px"><tspan class="i">/</tspan></text>
<text transform="translate(420.62,39.7) scale(1.2200,1)" font-size="15.8" style="stroke-width:0.06px"><tspan class="i">d</tspan></text>
<text transform="translate(430.65,39.7) scale(1.0471,1)" font-size="15.8" style="stroke-width:0.06px"><tspan class="i">p</tspan></text>
<text transform="translate(294.93,277.0) scale(1.0667,1)" font-size="17.8" fill="#0808f4" style="stroke:#0808f4;stroke-width:0.4px">−</text>
<text transform="translate(304.61,275.5) scale(1.0566,1)" font-size="17.8" fill="#0808f4" style="stroke:#0808f4;stroke-width:0.12px">Δ<tspan class="i">λ</tspan>/Δ<tspan class="i">p</tspan></text>
<text transform="translate(386.48,277.0) scale(1.0897,1)" font-size="15.6" style="stroke:#000;stroke-width:0.3px">−</text>
<text transform="translate(395.26,275.2) scale(1.2200,1)" font-size="15.8" style="stroke-width:0.06px"><tspan class="i">d</tspan></text>
<text transform="translate(407.09,275.2) scale(1.2200,1)" font-size="15.8" style="stroke-width:0.06px"><tspan class="i">λ</tspan></text>
<text transform="translate(415.70,275.2) scale(0.9000,1)" font-size="15.8" style="stroke-width:0.06px"><tspan class="i">/</tspan></text>
<text transform="translate(419.92,275.2) scale(1.2200,1)" font-size="15.8" style="stroke-width:0.06px"><tspan class="i">d</tspan></text>
<text transform="translate(429.85,275.2) scale(1.0471,1)" font-size="15.8" style="stroke-width:0.06px"><tspan class="i">p</tspan></text>
<text transform="translate(400.90,62.6) scale(1.0166,1)" font-size="17.8" fill="#000000"><tspan class="i">R</tspan> = 2.8</text>
<text transform="translate(392.20,298.6) scale(1.0029,1)" font-size="17.8" fill="#000000"><tspan class="i">R</tspan> = 2.8</text>
<text transform="translate(400.90,82.6) scale(1.0216,1)" font-size="17.8" fill="#cc0000" style="stroke:#cc0000;stroke-width:0.12px"><tspan class="i">R</tspan> = 4.2</text>
<text transform="translate(392.20,318.05) scale(1.0078,1)" font-size="17.8" fill="#cc0000" style="stroke:#cc0000;stroke-width:0.12px"><tspan class="i">R</tspan> = 4.2</text>
<text transform="translate(400.90,102.6) scale(1.0166,1)" font-size="17.8" fill="#6a1ee6" style="stroke:#6a1ee6;stroke-width:0.12px"><tspan class="i">R</tspan> = 5.8</text>
<text transform="translate(392.20,337.5) scale(1.0029,1)" font-size="17.8" fill="#6a1ee6" style="stroke:#6a1ee6;stroke-width:0.12px"><tspan class="i">R</tspan> = 5.8</text>
<text transform="translate(400.90,122.6) scale(1.0166,1)" font-size="17.8" fill="#05802a" style="stroke:#05802a;stroke-width:0.12px"><tspan class="i">R</tspan> = 7.0</text>
<text transform="translate(392.20,356.95000000000005) scale(1.0029,1)" font-size="17.8" fill="#05802a" style="stroke:#05802a;stroke-width:0.12px"><tspan class="i">R</tspan> = 7.0</text>
<text transform="translate(400.90,142.6) scale(1.0216,1)" font-size="17.8" fill="#f80c80" style="stroke:#f80c80;stroke-width:0.12px"><tspan class="i">R</tspan> = 8.2</text>
<text transform="translate(392.20,376.40000000000003) scale(1.0078,1)" font-size="17.8" fill="#f80c80" style="stroke:#f80c80;stroke-width:0.12px"><tspan class="i">R</tspan> = 8.2</text>
<text transform="translate(28.9,186.12) rotate(-90) scale(0.9250,1)" font-size="28" style="stroke-width:.12px">Δ</text>
<text transform="translate(28.9,168.07) rotate(-90) scale(1.0276,1)" font-size="28" style="stroke-width:.12px"><tspan class="i">α</tspan></text>
<text transform="translate(28.9,153.50) rotate(-90) scale(1.0065,1)" font-size="28" style="stroke-width:.12px">/</text>
<text transform="translate(28.9,145.47) rotate(-90) scale(0.8750,1)" font-size="28" style="stroke-width:.12px">Δ</text>
<text transform="translate(28.9,129.13) rotate(-90) scale(0.9831,1)" font-size="28" style="stroke-width:.12px"><tspan class="i">p</tspan></text>
<text transform="translate(28.9,113.85) rotate(-90) scale(0.8471,1)" font-size="28" style="stroke-width:.12px">,</text>
<text transform="translate(28.9,95.32) rotate(-90) scale(1.0943,1)" font-size="28" style="stroke-width:.12px"><tspan class="i">d</tspan></text>
<text transform="translate(28.9,80.60) rotate(-90) scale(1.0690,1)" font-size="28" style="stroke-width:.12px"><tspan class="i">α</tspan></text>
<text transform="translate(28.9,65.80) rotate(-90) scale(1.0581,1)" font-size="28" style="stroke-width:.12px">/</text>
<text transform="translate(28.9,57.79) rotate(-90) scale(1.0566,1)" font-size="28" style="stroke-width:.12px"><tspan class="i">d</tspan></text>
<text transform="translate(28.9,43.64) rotate(-90) scale(0.9763,1)" font-size="28" style="stroke-width:.12px"><tspan class="i">p</tspan></text>
<text transform="translate(32.0,439.93) rotate(-90) scale(0.9538,1)" font-size="28" style="stroke:#000;stroke-width:.7px">−</text>
<text transform="translate(32.0,424.72) rotate(-90) scale(0.9187,1)" font-size="28" style="stroke-width:.12px">Δ</text>
<text transform="translate(32.0,406.75) rotate(-90) scale(0.9959,1)" font-size="28" style="stroke-width:.12px"><tspan class="i">λ</tspan></text>
<text transform="translate(32.0,394.00) rotate(-90) scale(1.0194,1)" font-size="28" style="stroke-width:.12px">/</text>
<text transform="translate(32.0,385.90) rotate(-90) scale(0.9000,1)" font-size="28" style="stroke-width:.12px">Δ</text>
<text transform="translate(32.0,369.64) rotate(-90) scale(0.9763,1)" font-size="28" style="stroke-width:.12px"><tspan class="i">p</tspan></text>
<text transform="translate(32.0,356.07) rotate(-90) scale(0.8706,1)" font-size="28" style="stroke-width:.12px">,</text>
<text transform="translate(32.0,336.73) rotate(-90) scale(0.9538,1)" font-size="28" style="stroke:#000;stroke-width:.7px">−</text>
<text transform="translate(32.0,321.89) rotate(-90) scale(1.0491,1)" font-size="28" style="stroke-width:.12px"><tspan class="i">d</tspan></text>
<text transform="translate(32.0,307.22) rotate(-90) scale(1.0367,1)" font-size="28" style="stroke-width:.12px"><tspan class="i">λ</tspan></text>
<text transform="translate(32.0,293.80) rotate(-90) scale(0.9677,1)" font-size="28" style="stroke-width:.12px">/</text>
<text transform="translate(32.0,290.02) rotate(-90) scale(1.0943,1)" font-size="28" style="stroke-width:.12px"><tspan class="i">d</tspan></text>
<text transform="translate(32.0,272.68) rotate(-90) scale(1.0102,1)" font-size="28" style="stroke-width:.12px"><tspan class="i">p</tspan></text>
</g>
</svg></body></html>
